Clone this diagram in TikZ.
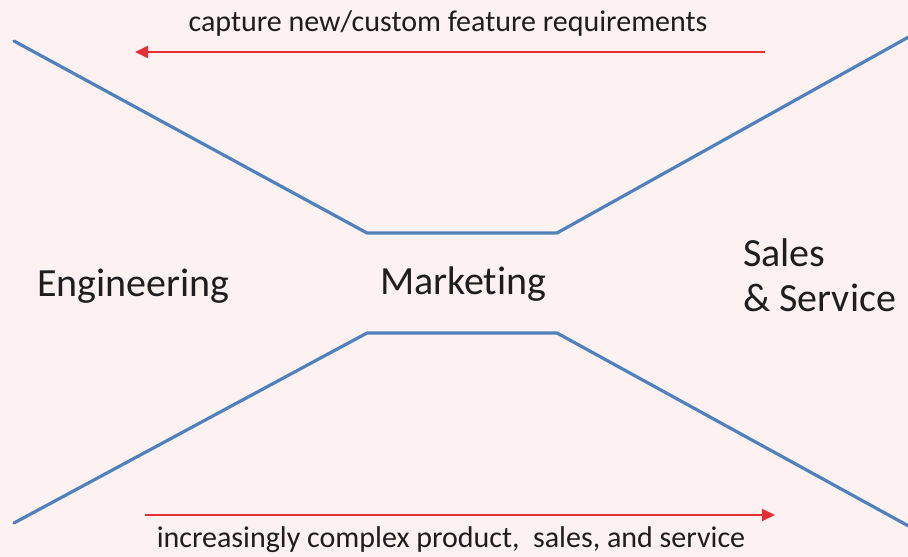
\documentclass[tikz,border=0pt]{standalone}
\usepackage{fontspec}
\setmainfont{Carlito}[Ligatures=NoCommon]
\usetikzlibrary{arrows.meta}
\begin{document}
\begin{tikzpicture}[x=1pt,y=1pt,
  funnel/.style={draw=lineColor,line width=3.2pt,line join=round,line cap=round},
  flow/.style={draw=arrowColor,line width=1.8pt,-{Triangle[length=13pt,width=12pt]}},
  tag/.style={text=textColor,inner sep=0pt,outer sep=0pt,font=\fontsize{40}{45}\selectfont},
  note/.style={text=textColor,anchor=base,inner sep=0pt,outer sep=0pt,font=\fontsize{30}{35}\selectfont}]
\definecolor{fillColor}{RGB}{253,241,241}
\definecolor{lineColor}{RGB}{79,129,189}
\definecolor{arrowColor}{RGB}{228,48,52}
\definecolor{textColor}{RGB}{30,30,30}
\path[use as bounding box,fill=fillColor] (0,0) rectangle (908,557);
\begin{scope}
\path[clip] (0,0) rectangle (908,557);

\path[funnel] ( 14,516) -- (367,324) -- (557,324) -- (914,523);

\path[funnel] ( 14, 34) -- (367,224) -- (557,224) -- (914, 28);
\end{scope}

\coordinate (capStart) at (765,505);
\coordinate (capEnd) at (135,505);
\path[flow] (capStart) -- (capEnd);

\coordinate (growStart) at (145,42);
\coordinate (growEnd) at (775,42);
\path[flow] (growStart) -- (growEnd);

\node[note] (capText) at (448,525) {capture new/custom feature requirements};
\node[note] (growText) at (451,  9) {increasingly complex product,~ sales, and service};

\node[tag,anchor=base west] (eng) at ( 37,260) {Engineering};
\node[tag,anchor=base west] (mkt) at (380,262) {Marketing};
\node[tag,anchor=north west,align=left] (sales) at (743,318) {Sales\\\& Service};
\end{tikzpicture}
\end{document}
